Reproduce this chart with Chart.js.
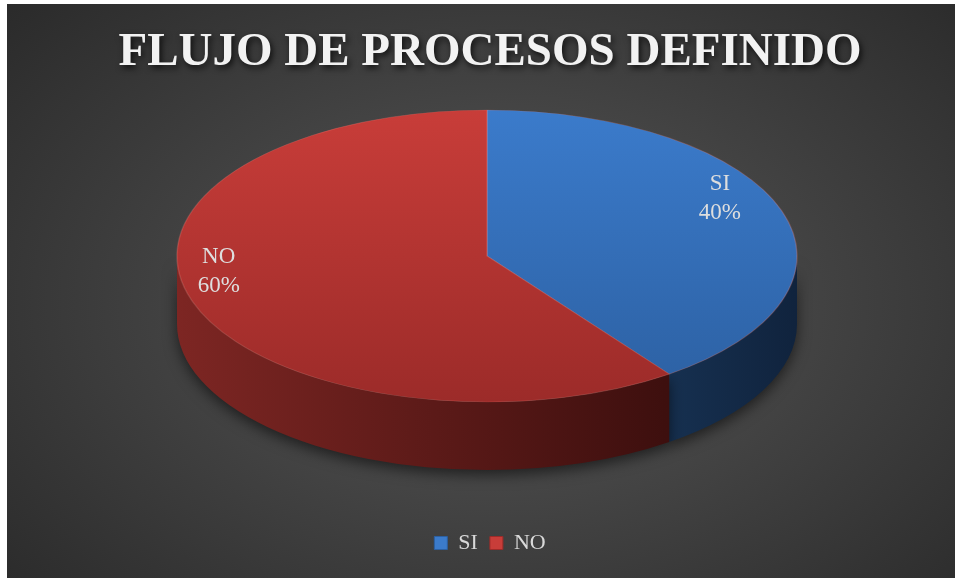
<!DOCTYPE html>
<html>
<head>
<meta charset="utf-8">
<script src="https://cdn.jsdelivr.net/npm/chart.js@4.4.1/dist/chart.umd.min.js"></script>
<style>
html,body{
    margin:0;
    padding:0;
    background:#ffffff;
    width:957px;
    height:578px;
    overflow:hidden;
}
#wrap{
    position:absolute;
    left:7px;
    top:4px;
    width:948px;
    height:574px;
    background:radial-gradient(ellipse 72% 80% at 52% 52%, #575757 0%, #434343 45%, #292929 100%);
}
</style>
</head>
<body>
<div id="wrap"><canvas id="pieChart"></canvas></div>

<script>

// =========================================
// Data
// =========================================

const categories = ["SI", "NO"];

const percentValues = [40, 60];

const topColors = [
    ["#3b7bcb", "#2c60a2"],
    ["#c83d39", "#9c2b29"]
];

const sideColors = [
    ["#163050", "#10233d"],
    ["#7d2623", "#3d0f0e"]
];

// =========================================
// 3D pie plugin
// =========================================

const pie3d = {

    id: "pie3d",

    afterInit(chart){

        // title with drop shadow
        const t = chart.titleBlock;
        if(t){
            const orig = t.draw;
            t.draw = function(){
                const c = chart.ctx;
                c.save();
                c.shadowColor = "rgba(0,0,0,0.75)";
                c.shadowBlur = 6;
                c.shadowOffsetX = 2;
                c.shadowOffsetY = 3;
                orig.call(this);
                c.restore();
            };
        }

    },

    beforeDatasetsDraw(chart, args, opts){

        const ctx = chart.ctx;
        const meta = chart.getDatasetMeta(0);
        const first = meta.data[0];
        const p = first.getProps(["x", "y", "outerRadius"], true);

        const cx = opts.cx, cy = opts.cy, rx = opts.rx, ry = opts.ry, depth = opts.depth;

        // side walls, front half only
        ctx.save();
        meta.data.forEach(function(arc, i){

            const a = arc.getProps(["startAngle", "endAngle"], true);

            [0, Math.PI * 2].forEach(function(base){

                const s = Math.max(a.startAngle, base);
                const e = Math.min(a.endAngle, base + Math.PI);

                if(e <= s) return;

                const x1 = cx + rx * Math.cos(e);
                const x0 = cx + rx * Math.cos(s);

                const g = ctx.createLinearGradient(Math.min(x0, x1), 0, Math.max(x0, x1), 0);
                const cols = sideColors[i];
                if(x0 > x1){
                    g.addColorStop(0, cols[0]);
                    g.addColorStop(1, cols[1]);
                } else {
                    g.addColorStop(0, cols[1]);
                    g.addColorStop(1, cols[0]);
                }

                ctx.beginPath();
                ctx.ellipse(cx, cy, rx, ry, 0, s, e);
                ctx.ellipse(cx, cy + depth, rx, ry, 0, e, s, true);
                ctx.closePath();

                ctx.shadowColor = "rgba(0,0,0,0.55)";
                ctx.shadowBlur = 14;
                ctx.shadowOffsetY = 5;
                ctx.fillStyle = g;
                ctx.fill();

            });

        });
        ctx.restore();

        // squash the top face into an ellipse
        ctx.save();
        ctx.translate(cx, cy);
        ctx.scale(rx / p.outerRadius, ry / p.outerRadius);
        ctx.translate(-p.x, -p.y);

    },

    afterDatasetsDraw(chart, args, opts){

        const ctx = chart.ctx;
        ctx.restore();

        const meta = chart.getDatasetMeta(0);
        const total = percentValues.reduce(function(s, v){ return s + v; }, 0);

        ctx.save();
        ctx.fillStyle = "#dedede";
        ctx.font = "23px 'Liberation Serif', 'Times New Roman', serif";
        ctx.textAlign = "center";
        ctx.textBaseline = "middle";

        meta.data.forEach(function(arc, i){

            const a = arc.getProps(["startAngle", "endAngle"], true);
            const mid = (a.startAngle + a.endAngle) / 2;
            const f = opts.labelRadius[i];

            const x = opts.cx + f * opts.rx * Math.cos(mid);
            const y = opts.cy + f * opts.ry * Math.sin(mid) + opts.labelShift[i];

            const pct = Math.round(percentValues[i] / total * 100) + "%";

            ctx.fillText(categories[i], x, y - 14);
            ctx.fillText(pct, x, y + 15);

        });

        ctx.restore();

    }

};

// =========================================
// Chart
// =========================================

function topGradient(context){

    const chart = context.chart;
    const area = chart.chartArea;
    const cols = topColors[context.dataIndex];

    if(!area) return cols[0];

    const cy = (area.top + area.bottom) / 2;
    const r = Math.min(area.right - area.left, area.bottom - area.top) / 2;

    const g = chart.ctx.createLinearGradient(0, cy - r, 0, cy + r);
    g.addColorStop(0, cols[0]);
    g.addColorStop(1, cols[1]);

    return g;

}

Chart.defaults.font.family = "'Liberation Serif', 'Times New Roman', serif";

new Chart(

document.getElementById("pieChart"),

{

type: "pie",

data: {

    labels: categories,

    datasets: [{

        data: percentValues,

        backgroundColor: topGradient,

        borderColor: "rgba(255,140,130,0.25)",

        borderWidth: 1

    }]

},

options: {

    responsive: true,

    maintainAspectRatio: false,

    animation: false,

    rotation: 0,

    layout: {
        padding: { top: 0, bottom: 14, left: 18, right: 0 }
    },

    plugins: {

        title: {
            display: true,
            text: "FLUJO DE PROCESOS DEFINIDO",
            color: "#f2f2f2",
            font: {
                size: 47,
                weight: "bold"
            },
            padding: { top: 21, bottom: 10 }
        },

        legend: {
            position: "bottom",
            labels: {
                color: "#d9d9d9",
                font: { size: 22 },
                boxWidth: 13,
                boxHeight: 13,
                padding: 12,
                generateLabels(chart){
                    return categories.map(function(name, i){
                        return {
                            text: name,
                            fillStyle: topColors[i][0],
                            strokeStyle: topColors[i][1],
                            lineWidth: 1,
                            fontColor: "#d9d9d9",
                            index: i
                        };
                    });
                }
            }
        },

        tooltip: { enabled: false },

        pie3d: {
            cx: 480,
            cy: 252,
            rx: 310,
            ry: 146,
            depth: 68,
            labelRadius: [0.79, 0.91],
            labelShift: [-22, -26]
        }

    }

},

plugins: [pie3d]

});

</script>
</body>
</html>
